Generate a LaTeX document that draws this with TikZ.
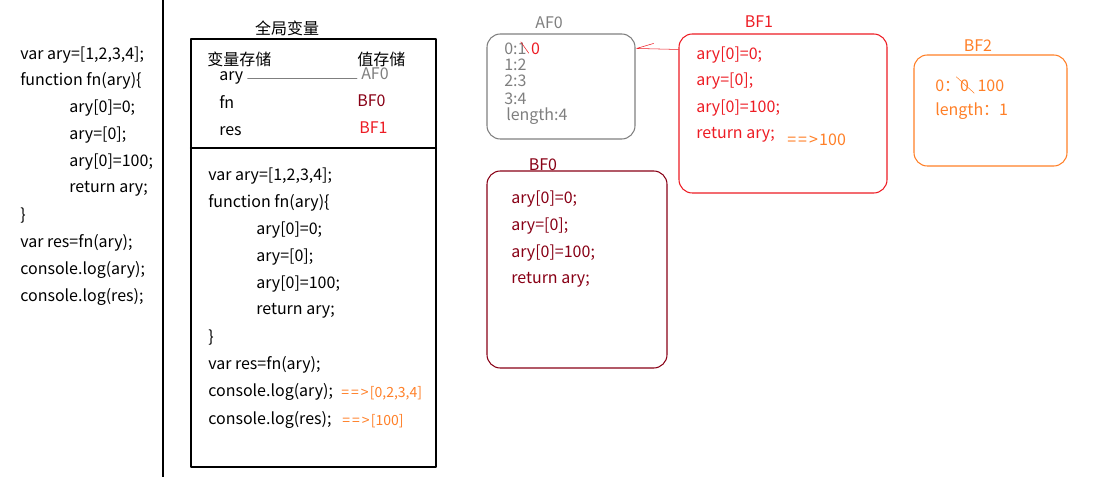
\documentclass[tikz,border=0pt]{standalone}
\usepackage{fontspec}
\setmainfont{Noto Sans CJK SC}
\usetikzlibrary{positioning}
\definecolor{memgray}{RGB}{127,127,127}
\definecolor{fnred}{RGB}{136,0,21}
\definecolor{callred}{RGB}{237,28,36}
\definecolor{resorange}{RGB}{255,127,39}
\newcommand\yields{=\kern1.5pt=\kern1.5pt>\kern1pt}
\tikzset{
	txt/.style={anchor=west,inner sep=0pt},
	result/.style={txt,resorange,font=\fontsize{10.5}{12}\selectfont},
	heap/.style={draw,rounded corners=10pt,line width=0.8pt},
	wh/.style 2 args={minimum width=#1*0.75pt,minimum height=#2*0.75pt}}
\begin{document}
\begin{tikzpicture}[x=0.75pt,y=-0.75pt,font=\fontsize{12}{14}\selectfont,line join=round,line cap=round]
	\useasboundingbox (0,0) rectangle (1103,477);
	% source code
	\path (20,55)node[txt](l1){var ary=[1,2,3,4];}
	(20,81)node[txt](l2){function fn(ary)\{}
	(69,108)node[txt](l3){ary[0]=0;}
	(69,135)node[txt](l4){ary=[0];}
	(69,162)node[txt](l5){ary[0]=100;}
	(69,189)node[txt](l6){return ary;}
	(20,216)node[txt](l7){\}}
	(20,243)node[txt](l8){var res=fn(ary);}
	(20,270)node[txt](l9){console.log(ary);}
	(20,297)node[txt](l10){console.log(res);};
	\draw[line width=1.2pt] (163,0)--(163,477);
	% global scope
	\path (313.5,253)node[draw,line width=0.8pt,wh={245}{428}](gvar){}
	(287,28)node(gtitle){全局变量};
	\draw[line width=0.8pt] (gvar.west|-0,148)--(gvar.east|-0,148);
	\path (207,59)node[txt](hvar){变量存储}
	(357,59)node[txt](hval){值存储}
	(219,78)node[txt](vary){ary}
	(219,102)node[txt](vfn){fn}
	(219,131)node[txt](vres){res}
	(361,74)node[txt,memgray](raf0){AF0}
	(357,101)node[txt,fnred](rbf0){BF0}
	(359,128)node[txt,callred](rbf1){BF1};
	\draw[memgray] ([xshift=3pt]vary.east)--([xshift=-3pt]raf0.west|-vary.east);
	\path (208,176)node[txt](g1){var ary=[1,2,3,4];}
	(208,203)node[txt](g2){function fn(ary)\{}
	(256,230)node[txt](g3){ary[0]=0;}
	(256,257)node[txt](g4){ary=[0];}
	(256,284)node[txt](g5){ary[0]=100;}
	(256,311)node[txt](g6){return ary;}
	(208,338)node[txt](g7){\}}
	(208,365)node[txt](g8){var res=fn(ary);}
	(208,392)node[txt](g9){console.log(ary);}
	(208,420)node[txt](g10){console.log(res);}
	(341,393)node[result](out1){\yields[0,2,3,4]}
	(342,421)node[result](out2){\yields[100]};
	% heap AF0
	\path (561,86.5)node[heap,memgray,wh={148}{105}](af0){}
	(549,23)node[memgray](taf0){AF0}
	(504,49)node[txt,memgray](a0){0:1}
	(504,65)node[txt,memgray](a1){1:2}
	(504,81)node[txt,memgray](a2){2:3}
	(504,99)node[txt,memgray](a3){3:4}
	(506,116)node[txt,memgray](alen){length:4};
	\node[txt,callred,right=3pt of a0](a0new){0};
	\draw[callred] ([shift={(-6,-1)}]a0.north east)--([shift={(2,-2)}]a0.south east);
	% heap BF1
	\path (783,113.5)node[heap,callred,wh={208}{159}](bf1){}
	(759,22)node[callred](tbf1){BF1}
	(696,55)node[txt,callred](c1){ary[0]=0;}
	(696,81)node[txt,callred](c2){ary=[0];}
	(696,108)node[txt,callred](c3){ary[0]=100;}
	(696,135)node[txt,callred](c4){return ary;}
	(787,140)node[result,font=\fontsize{12}{14}\selectfont](cret){\yields100};
	\draw[callred] ([yshift=-12pt]bf1.north west)--([shift={(1,-11.25pt)}]af0.north east)--++(17,-5);
	% heap BF0
	\path (577,269.5)node[heap,fnred,wh={180}{197}](bf0){}
	(543,165)node[fnred](tbf0){BF0}
	(511,199)node[txt,fnred](f1){ary[0]=0;}
	(511,226)node[txt,fnred](f2){ary=[0];}
	(511,253)node[txt,fnred](f3){ary[0]=100;}
	(511,280)node[txt,fnred](f4){return ary;};
	% heap BF2
	\path (990.5,110.5)node[heap,resorange,wh={153}{111}](bf2){}
	(978,46)node[resorange](tbf2){BF2}
	(935,86)node[txt,resorange](b0){0：0}
	(935,111)node[txt,resorange](blen){length：1};
	\node[txt,resorange,right=6pt of b0](b0new){100};
	\draw[resorange] ([shift={(-13,-3)}]b0.north east)--([shift={(5,1)}]b0.south east);
\end{tikzpicture}
\end{document}
